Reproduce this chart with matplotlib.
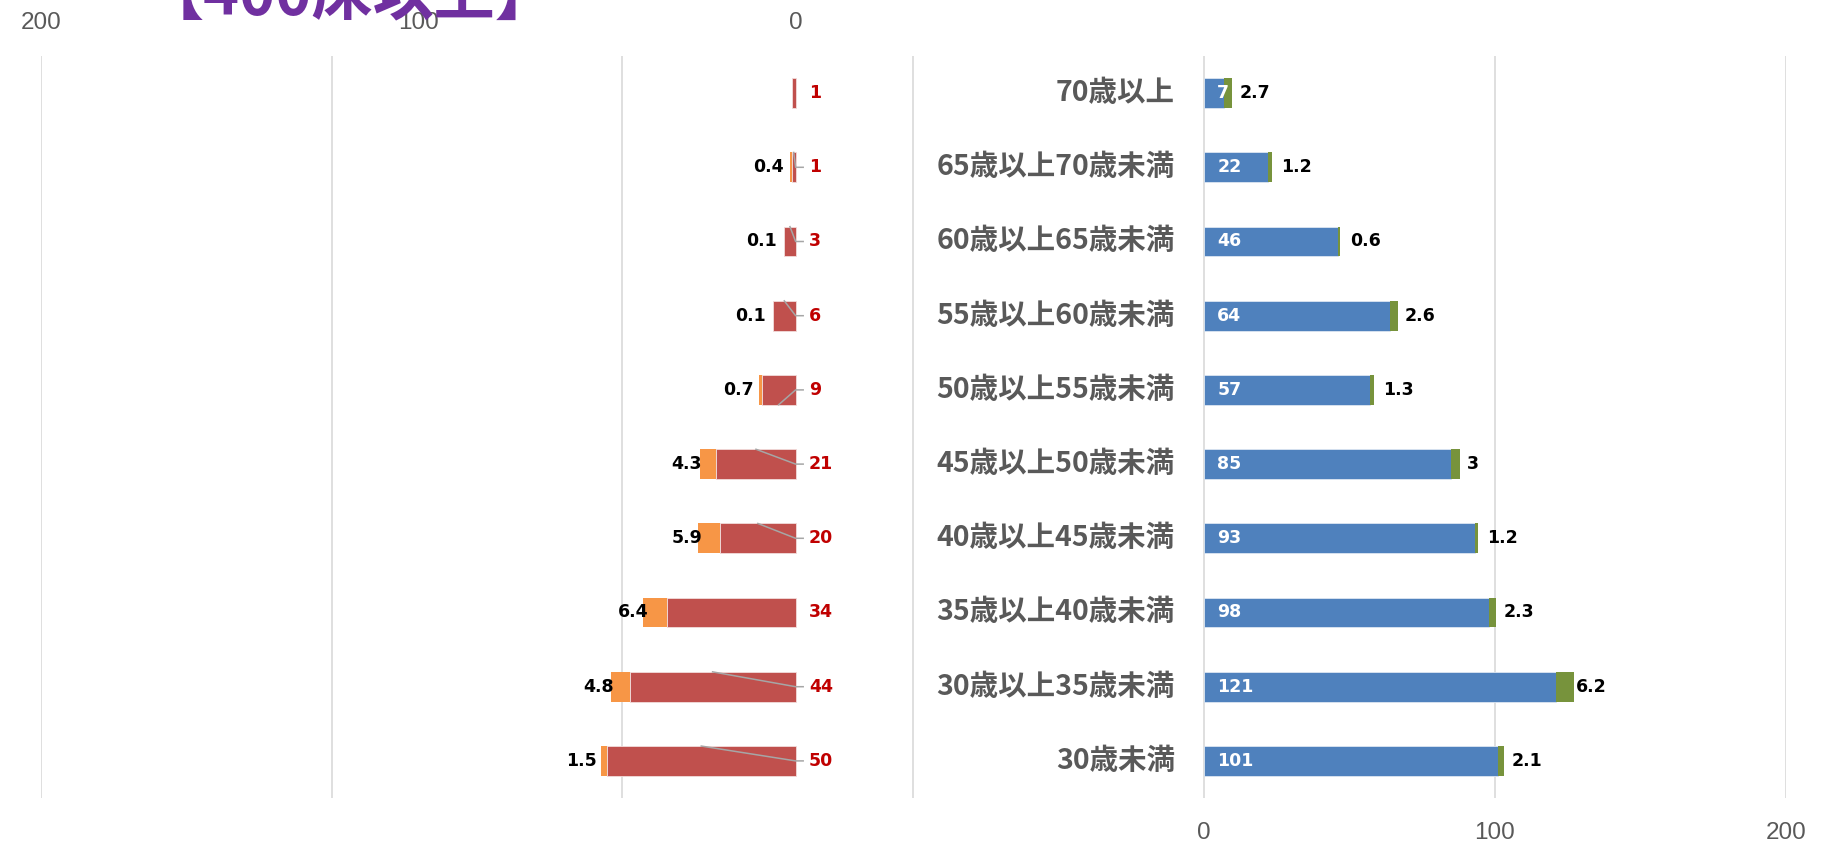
import matplotlib
matplotlib.use("Agg")
import matplotlib.pyplot as plt

plt.rcParams['font.family'] = ['DejaVu Sans', 'Noto Sans CJK JP']

# 年齢階級（上から順）
ages = ["70歳以上", "65歳以上70歳未満", "60歳以上65歳未満", "55歳以上60歳未満",
        "50歳以上55歳未満", "45歳以上50歳未満", "40歳以上45歳未満",
        "35歳以上40歳未満", "30歳以上35歳未満", "30歳未満"]
# 左側（赤＋オレンジ）
left_main = [1, 1, 3, 6, 9, 21, 20, 34, 44, 50]
left_sub = [0, 0.4, 0.1, 0.1, 0.7, 4.3, 5.9, 6.4, 4.8, 1.5]
# 右側（青＋緑）
right_main = [7, 22, 46, 64, 57, 85, 93, 98, 121, 101]
right_sub = [2.7, 1.2, 0.6, 2.6, 1.3, 3, 1.2, 2.3, 6.2, 2.1]

# 引き出し線のある行と、線の出る辺
leaders = {1: 'top', 2: 'top', 3: 'top', 4: 'bottom', 5: 'top',
           6: 'top', 8: 'top', 9: 'top'}

RED = '#C0504D'
ORANGE = '#F79646'
BLUE = '#4F81BD'
GREEN = '#77933C'
GRAY = '#595959'
H = 0.4

fig = plt.figure(figsize=(18.24, 8.43), dpi=100)
ax = fig.add_axes([40.7 / 1824, 1 - 798 / 843, 1745 / 1824, 742 / 843])
ax2 = ax.twiny()

y = list(range(len(ages)))

# 右側の棒
ax.barh(y, right_main, height=H, color=BLUE, edgecolor='#DCE6F2', linewidth=0.6, zorder=2)
ax.barh(y, right_sub, height=H, left=right_main, color=GREEN, zorder=2)
ax.set_xlim(-400, 200)
ax.set_ylim(9.5, -0.5)
ax.set_xticks(range(-400, 201, 100))
ax.set_xticklabels(['' if t < 0 else str(t) for t in range(-400, 201, 100)])
ax.grid(axis='x', color='#D9D9D9', linewidth=1.2)
ax.set_axisbelow(True)
ax.set_yticks([])
ax.tick_params(axis='x', length=0, pad=17, labelsize=17.5, labelcolor=GRAY)
for lab in ax.get_xticklabels():
    lab.set_family('Liberation Sans')

# 左側の棒（上の軸、反転）
ax2.barh(y, left_main, height=H, color=RED, edgecolor='#F2DCDB', linewidth=0.6, zorder=2)
ax2.barh(y, left_sub, height=H, left=left_main, color=ORANGE, zorder=2)
ax2.set_xlim(200, -262.3)
ax2.set_xticks([0, 100, 200])
ax2.tick_params(axis='x', length=0, pad=16, labelsize=17.5, labelcolor=GRAY)
for lab in ax2.get_xticklabels():
    lab.set_family('Liberation Sans')

for a in (ax, ax2):
    for s in a.spines.values():
        s.set_visible(False)

lbl = dict(fontsize=12.5, fontweight='bold', va='center', textcoords='offset points')

for i in y:
    # 年齢階級
    ax.annotate(ages[i], xy=(0, i), xytext=(-21, 0), textcoords='offset points',
                ha='right', va='center', fontsize=20.5, fontweight='bold',
                color=GRAY, family='Noto Sans CJK JP')
    # 右側のラベル
    ax.annotate(str(right_main[i]), xy=(0, i), xytext=(9.5, 0), ha='left',
                color='white', **lbl)
    ax.annotate(str(right_sub[i]), xy=(right_main[i] + right_sub[i] / 2, i),
                xytext=(8, 0), ha='left', color='black', **lbl)
    # 左側のラベル
    ax2.annotate(str(left_main[i]), xy=(0, i), xytext=(9.5, 0), ha='left',
                 color='#C00000', **lbl)
    if left_sub[i] > 0:
        ax2.annotate(str(left_sub[i]), xy=(left_main[i] + left_sub[i] / 2, i),
                     xytext=(-16, 0), ha='center', color='black', **lbl)
    # 引き出し線
    if i in leaders:
        edge = i - H / 2 if leaders[i] == 'top' else i + H / 2
        ax2.plot([left_main[i] / 2, 0, -2], [edge, i, i], color='#A6A6A6',
                 linewidth=1.1, zorder=3)

fig.text(350 / 1824, 1 - 15 / 843, "【400床以上】", ha='center', va='baseline',
         fontsize=44, fontweight='bold', color='#7030A0', family='Noto Sans CJK JP')

fig.savefig('out.png', dpi=100, facecolor='white')
